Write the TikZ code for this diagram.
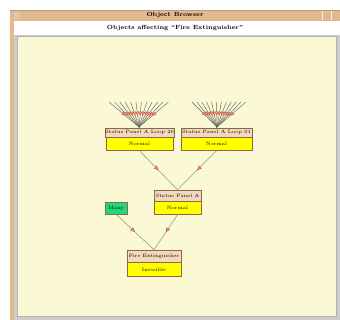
\documentclass[tikz,border=0pt]{standalone}
\usetikzlibrary{arrows.meta,decorations.markings}
\definecolor{frametan}{HTML}{E2B98F}
\definecolor{canvas}{HTML}{FAF9D4}
\definecolor{headtan}{HTML}{F2D8BC}
\definecolor{boxline}{HTML}{8A6A40}
\definecolor{valyellow}{HTML}{FFFF00}
\definecolor{manygreen}{HTML}{22D67E}
\definecolor{edgecol}{HTML}{A09A80}
\definecolor{arrowred}{HTML}{C85A4A}
\definecolor{arrowfill}{HTML}{E8A890}
\tikzset{
  boxfont/.style={font=\fontsize{4.8}{6}\selectfont},
  headbox/.style={draw=boxline,fill=headtan,line width=0.5pt,inner sep=0pt,minimum height=9pt,boxfont},
  valbox/.style={draw=boxline,fill=valyellow,line width=0.5pt,inner sep=0pt,minimum height=13pt,boxfont},
  greenbox/.style={draw=boxline,fill=manygreen,line width=0.5pt,inner sep=0pt,minimum height=12pt,minimum width=22pt,boxfont},
  midarrow/.style={draw=edgecol,line width=0.6pt,postaction={decorate},decoration={markings,mark=at position 0.5 with {\arrow{Triangle[length=4.5pt,width=4pt,color=arrowred,fill=arrowfill]}}}},
  fanline/.style={draw=gray!80!black,line width=0.45pt,postaction={decorate},decoration={markings,mark=at position 0.55 with {\arrow{Triangle[length=4pt,width=3.5pt,color=arrowred,fill=arrowfill]}}}}
}
\begin{document}
\begin{tikzpicture}[x=1pt,y=-1pt]
\useasboundingbox (0,0) rectangle (340,320);
\fill[white] (0,0) rectangle (340,320);
% window frame
\fill[frametan] (10,10) rectangle (340,320);
\fill[frametan!85!black] (10,10) rectangle (340,10.8);
\fill[white] (14,21) rectangle (340,35);
\fill[gray!40] (14,35) rectangle (340,320);
\fill[canvas] (17,36) rectangle (336,316);
\draw[gray!60,line width=0.4pt] (17,36) rectangle (336,316);
\fill[frametan!80!white] (14,12) rectangle (20,19);
\draw[white!80!frametan,line width=0.4pt] (322,11) -- (322,20);
\draw[white!80!frametan,line width=0.4pt] (331,11) -- (331,20);
\node[font=\bfseries\fontsize{6}{7}\selectfont] (title) at (175,15.5) {Object Browser};
\node[font=\bfseries\fontsize{6}{7}\selectfont] (subtitle) at (175,28) {Objects affecting ``Fire Extinguisher''};
% boxes
\node[headbox,minimum width=67pt] (l20h) at (139.5,132.5) {Status Panel A Loop 20};
\node[valbox,minimum width=67pt,anchor=north] (l20v) at (l20h.south) {Normal};
\node[headbox,minimum width=71pt] (l01h) at (216.5,132.5) {Status Panel A Loop 01};
\node[valbox,minimum width=71pt,anchor=north] (l01v) at (l01h.south) {Normal};
\node[headbox,minimum width=47pt,minimum height=11pt] (spah) at (177.5,195.5) {Status Panel A};
\node[valbox,minimum width=47pt,anchor=north] (spav) at (spah.south) {Normal};
\node[greenbox] (many) at (116,208) {Many};
\node[headbox,minimum width=54pt,minimum height=12pt] (feh) at (154,256) {Fire Extinguisher};
\node[valbox,minimum width=54pt,minimum height=14pt,anchor=north] (fev) at (feh.south) {Invisible};
% edges
\draw[midarrow] (l20v.south) -- (spah.north);
\draw[midarrow] (l01v.south) -- (spah.north);
\draw[midarrow] (many.south) -- (feh.north);
\draw[midarrow] (spav.south) -- (feh.north);
% fans
\coordinate (fanA) at (139,127);
\coordinate (fanB) at (217,127);
\foreach \i in {0,...,11}{
  \coordinate (ta\i) at ({109+\i*5.4},102);
  \coordinate (tb\i) at ({192+\i*4.9},102);
  \draw[fanline] (ta\i) -- (fanA);
  \draw[fanline] (tb\i) -- (fanB);
}
\draw[black,line width=0.5pt] (fanA) -- (l20h.north);
\draw[black,line width=0.5pt] (fanB) -- (l01h.north);
\end{tikzpicture}
\end{document}
